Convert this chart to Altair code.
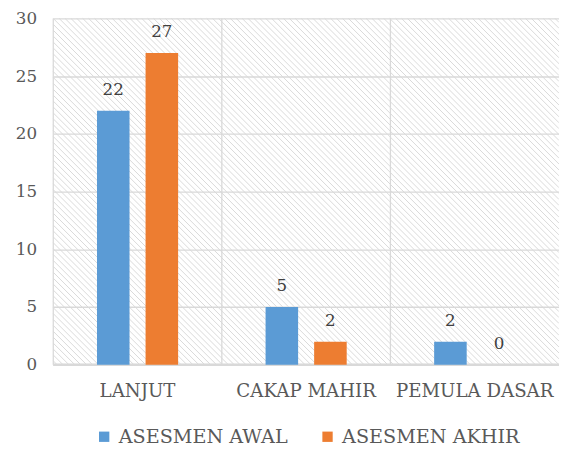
import altair as alt
import pandas as pd

categories = ["LANJUT", "CAKAP MAHIR", "PEMULA DASAR"]
series = ["ASESMEN AWAL", "ASESMEN AKHIR"]
awal = [22, 5, 2]
akhir = [27, 2, 0]
colors = ["#5B9BD5", "#ED7D31"]
y_ticks = [0, 5, 10, 15, 20, 25, 30]

rows = []
for c, a, b in zip(categories, awal, akhir):
    rows.append({"cat": c, "series": series[0], "value": a})
    rows.append({"cat": c, "series": series[1], "value": b})
df = pd.DataFrame(rows)
seps = pd.DataFrame({"cat": categories})

W, H = 514, 352
FONT = "DejaVu Serif"

x_enc = alt.X("cat:N", sort=categories, title=None,
              scale=alt.Scale(paddingInner=0, paddingOuter=0),
              axis=alt.Axis(labelFontSize=18.5, labelFont=FONT, labelColor="#595959",
                            labelAngle=0, ticks=False, domain=False, grid=False,
                            labelPadding=17, labelLimit=300))
y_enc = alt.Y("value:Q", title=None,
              scale=alt.Scale(domain=[0, 30], nice=False),
              axis=alt.Axis(values=y_ticks, labelFontSize=17, labelFont=FONT,
                            labelColor="#595959", ticks=False, domain=False,
                            grid=True, gridColor="#d9d9d9", gridWidth=1.3,
                            labelPadding=17))

# decorative hatch background (diagonal lines computed inside the plot rectangle)
hatch = alt.Chart(alt.sequence(-58, 86, 1, as_="i")).transform_calculate(
    a="datum.i*6"
).transform_calculate(
    sx=f"max(datum.a, 0)",
    sy=f"{H} - max(-datum.a, 0)",
    ex=f"min(datum.a + {H}, {W})",
    ey=f"{H} - min({H}, {W} - datum.a)",
).mark_rule(color="#d9d9d9", strokeWidth=1).encode(
    x=alt.X("sx:Q", scale=alt.Scale(domain=[0, W], nice=False, zero=False), axis=None),
    x2="ex:Q",
    y=alt.Y("sy:Q", scale=alt.Scale(domain=[0, H], nice=False, zero=False), axis=None),
    y2="ey:Q",
)

base = alt.Chart(df)

grid = base.mark_bar(opacity=0).encode(x=x_enc, y=y_enc)

sep = alt.Chart(seps).mark_rule(color="#d9d9d9", strokeWidth=1.3).encode(
    x=alt.X("cat:N", sort=categories, bandPosition=0),
)

baseline = alt.Chart(seps).mark_rule(color="#d9d9d9", strokeWidth=2).encode(
    y=alt.datum(0)
)

xoff = alt.XOffset("series:N", sort=series,
                   scale=alt.Scale(paddingInner=0.33, paddingOuter=0.9))

bars = base.mark_bar().encode(
    x=x_enc,
    xOffset=xoff,
    y=y_enc,
    color=alt.Color("series:N", sort=series,
                    scale=alt.Scale(domain=series, range=colors),
                    legend=alt.Legend(orient="none", legendX=42, legendY=415,
                                      direction="horizontal", title=None,
                                      symbolType="square", symbolSize=110,
                                      labelFontSize=19.5, labelFont=FONT, labelColor="#595959",
                                      labelLimit=400, labelOffset=5, columnPadding=30,
                                      symbolStrokeWidth=0)),
)

labels = base.mark_text(fontSize=17, font=FONT, color="#404040", baseline="alphabetic", dy=-16).encode(
    x=x_enc,
    xOffset=xoff,
    y=y_enc,
    text="value:Q",
)

main = alt.layer(grid, sep, baseline, bars, labels)

chart = alt.layer(hatch, main).resolve_scale(x="independent", y="independent").properties(
    width=W, height=H,
    autosize=alt.AutoSizeParams(type="none"),
    padding={"left": 46, "top": 7, "right": 0, "bottom": 85},
).configure_view(stroke=None)

chart.save("out.html", embed_options={"renderer": "svg", "actions": False})
